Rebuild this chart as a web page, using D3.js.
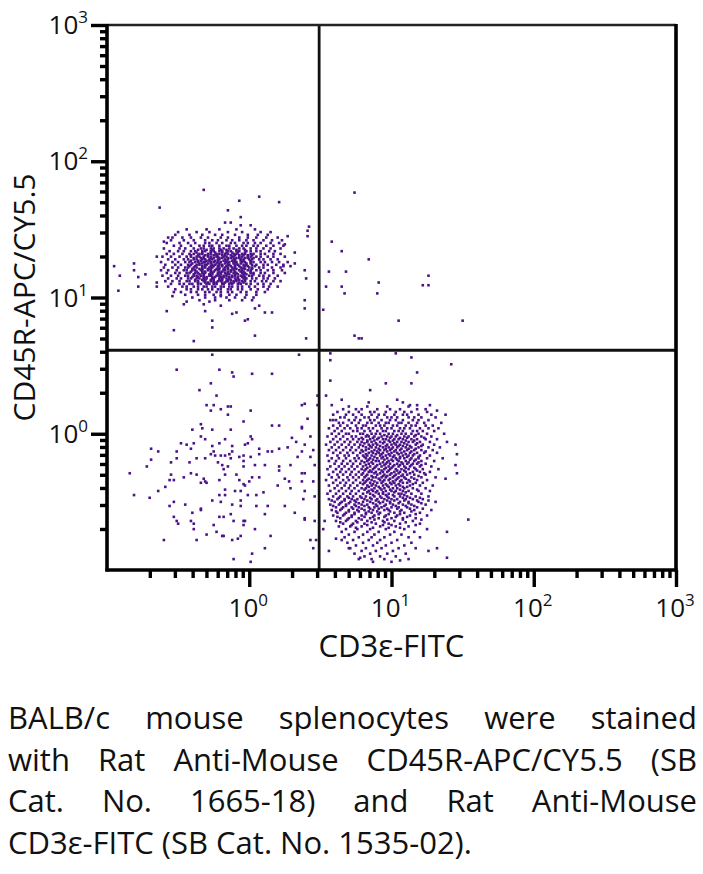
<!DOCTYPE html>
<html>
<head>
<meta charset="utf-8">
<script src="https://cdn.jsdelivr.net/npm/d3@7/dist/d3.min.js"></script>
<style>
  body { margin: 0; background: #fff; }
  text { font-family: "Open Sans", "Noto Sans", sans-serif; fill: #111; }
</style>
</head>
<body>
<div id="chart"></div>
<script>
// axis ranges (linear values, log display)
var xDomain = [0.1, 1000];
var yDomain = [0.1, 1000];
var majorTicks = [1, 10, 100, 1000];
var majorExp = ['0', '1', '2', '3'];
var minorMult = [2, 3, 4, 5, 6, 7, 8, 9];
var minorDecades = [0.1, 1, 10, 100];

// quadrant gates
var cd3Gate = 3.1;
var cd45rGate = 4.1;

var xTitle = 'CD3\u03b5-FITC';
var yTitle = 'CD45R-APC/CY5.5';
var captionLines = [
  'BALB/c mouse splenocytes were stained',
  'with Rat Anti-Mouse CD45R-APC/CY5.5 (SB',
  'Cat. No. 1665-18) and Rat Anti-Mouse',
  'CD3\u03b5-FITC (SB Cat. No. 1535-02).'
];

// events as log10 exponents in hundredths of a decade
// rows: [y, x1, x2, ...]
var bCellRows = [
  [150,-44,-30,-21,-9,4],
  [148,-50,-37,-28,-15,-5,8,15],
  [146,-52,-42,-33,-24,-19,-10,-1,6,13],
  [144,-57,-47,-41,-34,-29,-20,-15,-7,-1,5,12,20],
  [142,-55,-46,-39,-31,-26,-22,-16,-12,-7,-2,3,10,16,23],
  [140,-58,-49,-43,-38,-31,-28,-23,-19,-13,-10,-4,-1,4,8,15,21],
  [138,-53,-48,-41,-35,-32,-28,-26,-21,-16,-14,-9,-5,-2,3,6,12,17,24],
  [136,-60,-49,-45,-39,-34,-32,-27,-25,-21,-18,-14,-11,-7,-4,1,5,10,15,22],
  [135,-36,-30,-26,-20,-16,-9,-3],
  [134,-56,-50,-46,-41,-38,-33,-31,-27,-25,-21,-19,-15,-13,-9,-7,-2,1,5,8,14,18],
  [133,-37,-33,-27,-24,-19,-16,-12,-8,-3],
  [132,-58,-53,-47,-42,-39,-35,-33,-29,-27,-23,-21,-17,-15,-11,-9,-5,-3,1,3,8,11,17,22],
  [131,-41,-36,-31,-29,-25,-23,-19,-17,-13,-10,-7,-4,-1,2],
  [130,-61,-55,-49,-44,-41,-37,-35,-32,-29,-27,-23,-22,-18,-16,-12,-11,-7,-5,-1,1,5,8,13,17,25],
  [129,-39,-34,-32,-27,-25,-21,-19,-15,-13,-9,-7,-3,-1,3],
  [128,-57,-52,-46,-43,-39,-37,-33,-31,-28,-26,-22,-21,-17,-15,-11,-10,-6,-4,0,2,7,10,15,20],
  [127,-41,-36,-34,-30,-28,-24,-22,-18,-16,-12,-10,-6,-4,1],
  [126,-62,-54,-50,-45,-42,-38,-36,-32,-31,-27,-25,-22,-20,-16,-14,-11,-9,-5,-3,1,3,8,11,16,21,27],
  [125,-40,-35,-33,-29,-27,-23,-21,-17,-15,-11,-9,-6,-2,1],
  [124,-59,-52,-48,-43,-41,-37,-35,-31,-30,-26,-24,-21,-19,-15,-14,-10,-8,-4,-2,2,5,10,13,19,24],
  [123,-42,-38,-33,-31,-27,-25,-22,-19,-16,-13,-10,-7,-3,-1,4],
  [122,-60,-54,-50,-45,-43,-39,-37,-33,-31,-28,-26,-22,-21,-17,-15,-12,-10,-6,-4,0,2,7,10,16,22],
  [121,-40,-35,-33,-29,-27,-23,-21,-18,-15,-11,-9,-5,-3,2],
  [120,-62,-57,-51,-46,-44,-40,-38,-34,-33,-29,-27,-24,-22,-18,-17,-13,-11,-7,-5,-1,1,5,8,13,17,23],
  [119,-41,-37,-33,-31,-27,-25,-21,-19,-15,-13,-10,-6,-4,1],
  [118,-58,-52,-49,-44,-42,-38,-36,-33,-31,-27,-26,-22,-20,-17,-15,-11,-9,-5,-3,1,3,8,11,17,25],
  [117,-39,-35,-32,-28,-26,-22,-20,-16,-14,-10,-8,-4,-2,3],
  [116,-61,-55,-50,-45,-43,-39,-37,-34,-32,-28,-27,-23,-21,-18,-16,-12,-10,-6,-4,0,2,7,10,14,20],
  [115,-40,-36,-32,-30,-26,-24,-20,-18,-14,-12,-8,-5,-3],
  [114,-57,-51,-48,-43,-41,-37,-35,-32,-30,-26,-25,-21,-19,-16,-14,-10,-8,-4,-2,2,5,10,13,18],
  [113,-38,-33,-31,-27,-25,-21,-19,-15,-13,-9,-7,-3],
  [112,-59,-54,-49,-44,-42,-38,-36,-32,-31,-27,-25,-22,-20,-16,-15,-11,-9,-5,-3,1,4,9,12,17,22],
  [111,-36,-31,-29,-25,-23,-19,-17,-13,-11,-7,-4],
  [110,-55,-49,-46,-42,-40,-36,-34,-30,-28,-25,-23,-19,-18,-14,-12,-8,-6,-2,1,6,10,15],
  [108,-57,-47,-44,-39,-36,-32,-30,-26,-24,-20,-18,-14,-12,-8,-5,0,4,10,14,20],
  [106,-52,-44,-41,-36,-33,-29,-26,-22,-20,-15,-13,-8,-5,1,6,13],
  [104,-48,-41,-37,-31,-28,-23,-20,-15,-12,-6,-2,5,11],
  [102,-45,-36,-31,-25,-20,-14,-9,-2,5],
  [100,-40,-31,-24,-16,-10,-3,3],
  [98,-35,-24,-14,-5,2]
];

var tCellRows = [
  [20,70,83,97,112],
  [18,66,75,79,90,99,106,118],
  [16,62,70,77,85,88,96,103,109,114,125],
  [14,59,68,73,79,86,91,95,102,108,111,119,128],
  [12,64,67,75,81,84,90,97,100,104,112,116,121,131],
  [10,57,61,70,74,78,85,88,93,99,103,108,115,119,126],
  [8,63,66,72,77,83,86,91,96,98,105,107,112,118,123,135],
  [6,59,64,69,75,80,82,89,92,95,101,104,110,114,117,124,129],
  [4,56,62,67,71,76,79,84,87,93,97,100,106,109,113,120,126,133],
  [2,60,65,73,76,81,85,90,94,96,102,105,108,115,118,122,130],
  [0,58,63,68,70,78,80,86,89,92,98,101,107,110,114,119,125,137],
  [-1,83,95,104,117],
  [-2,55,61,66,72,75,82,84,88,93,97,100,103,109,112,116,121,128],
  [-3,79,87,91,99,106,111,123],
  [-4,59,64,69,73,77,80,85,90,94,96,102,105,108,114,118,124,132],
  [-5,83,88,98,101,110,116],
  [-6,57,62,67,71,76,79,83,86,92,95,99,104,107,112,115,120,127,139],
  [-7,81,89,94,102,109,118],
  [-8,54,60,65,70,74,78,84,87,90,97,100,103,106,111,117,122,130],
  [-9,80,85,92,96,105,108,113,121],
  [-10,58,63,68,72,77,82,86,89,94,98,101,104,110,114,119,126,134],
  [-11,84,91,96,100,107,112,117],
  [-12,56,61,66,71,75,79,82,88,92,95,99,103,106,111,116,121,129],
  [-13,80,86,90,97,102,109,114,124],
  [-14,59,64,69,73,78,84,87,91,94,100,104,107,113,118,123,132],
  [-15,82,89,93,98,105,110,116],
  [-16,55,62,67,70,76,80,83,86,92,96,99,102,108,112,115,120,127],
  [-17,81,88,94,101,106,111,119],
  [-18,58,63,68,74,77,82,85,90,93,97,103,106,109,114,119,125,136],
  [-19,84,87,95,100,104,113,117],
  [-20,56,61,66,71,75,79,83,89,91,98,101,105,110,116,121,130],
  [-21,81,86,94,97,107,112,119],
  [-22,60,65,69,73,78,84,87,92,96,99,104,108,111,115,118,124],
  [-23,82,90,95,102,106,114,121],
  [-24,57,63,67,72,76,80,85,89,93,98,101,105,109,113,120,128],
  [-25,83,88,96,100,110,116],
  [-26,55,61,65,70,74,79,82,87,91,95,99,103,107,112,117,122,133],
  [-27,81,85,93,98,104,109,118],
  [-28,59,64,68,72,77,84,86,89,94,97,102,106,110,115,120,127],
  [-29,80,88,92,100,105,113,123],
  [-30,56,62,66,71,75,79,83,90,95,99,103,108,111,116,124],
  [-31,82,86,94,97,102,107,119],
  [-32,58,63,69,73,77,81,87,89,93,96,101,105,109,114,121,131],
  [-33,84,91,99,104,110,116],
  [-34,54,61,66,70,75,80,83,86,92,95,98,103,107,112,118,125],
  [-35,82,88,94,101,106,113],
  [-36,59,64,68,73,78,81,85,90,93,99,102,108,111,117,122],
  [-37,80,87,96,100,105,115],
  [-38,56,62,67,71,76,83,86,89,94,97,103,106,113,120,129],
  [-39,84,91,98,108,111],
  [-40,60,65,70,74,79,82,88,92,95,101,104,109,115,124],
  [-41,81,86,93,99,106,118],
  [-42,57,63,68,72,77,84,87,90,96,100,103,108,112,119,127],
  [-43,83,89,94,102,110],
  [-44,55,61,66,71,75,80,85,91,94,98,105,107,114,121],
  [-45,87,96,101,109],
  [-46,59,64,69,73,78,82,88,92,97,102,106,111,117,126],
  [-47,63,70,79,85,93,98,108,113,120],
  [-48,56,62,67,72,76,81,86,90,95,100,104,110,115,122],
  [-49,58,67,74,83,89,97,102,109,118,126],
  [-50,60,65,71,75,80,85,91,94,99,106,112,119,131],
  [-51,64,70,77,87,92,99,105,112,121],
  [-52,57,63,68,74,79,83,89,96,101,108,114,124],
  [-53,59,68,75,81,90,95,103,110,116],
  [-54,61,66,72,77,84,88,93,100,105,111,118],
  [-55,65,73,79,85,91,97,104,113,122],
  [-56,58,64,70,76,81,87,95,98,107,116,128],
  [-57,61,70,77,84,90,99,106,114],
  [-58,62,68,74,82,86,92,102,109,120],
  [-59,67,74,82,91,98,106,117],
  [-60,59,66,72,79,88,96,104,113,125],
  [-61,62,72,81,87,95,103,111],
  [-62,64,70,77,85,91,100,108,117],
  [-63,69,79,88,97,108,121],
  [-64,61,68,75,83,94,102,115],
  [-65,64,76,86,95,110],
  [-66,66,73,81,89,98,106,120],
  [-67,72,83,94,100,117],
  [-68,63,71,79,92,103,112],
  [-69,75,87,98,106],
  [-70,68,76,85,96,109,125],
  [-72,65,74,83,91,102,116],
  [-74,70,80,88,99,107],
  [-76,67,77,86,95,112,120],
  [-78,73,84,92,104],
  [-80,69,80,90,100,114],
  [-82,75,87,96,109],
  [-84,71,82,93,105,117],
  [-86,79,89,101],
  [-88,74,85,97,110],
  [-90,81,92,103],
  [-92,77,95,112],
  [-94,87,100]
];

// single events: [x, y]
var bOutLog = [[-32,179],[-63,166],[-7,171],[7,174],[21,170],[-15,164],[-6,159],[-17,155],[-13,155],[-6,153],[1,153],[42,152],[41,149],[41,145],[27,145],[-95,123],[-91,116],[-81,125],[-81,120],[-78,115],[-73,117],[-78,108],[-92,105],[-65,130],[-65,111],[-65,108],[-58,90],[-53,76],[-39,68],[-46,95],[-44,97],[-31,90],[-26,83],[-26,78],[-12,88],[-9,89],[-3,83],[-1,84],[4,72],[11,89],[16,89],[7,94],[4,92],[39,98],[39,92],[40,114],[39,120],[32,125],[29,123],[24,123],[40,70],[32,133],[25,139],[-20,94],[-20,101],[-28,97],[-32,95],[-54,101],[-53,104],[-60,141],[-54,144]];

var tOutLog = [[57,59],[57,54],[103,59],[114,56],[142,51],[118,45],[57,39],[96,37],[114,37],[85,32],[54,28],[65,25],[84,23],[104,25],[108,23],[113,21],[118,21],[127,21],[124,18],[132,17],[138,14],[58,21],[59,10],[145,-8],[146,-15],[145,-23],[146,-29],[138,-33],[154,-63],[139,-72],[139,-91],[132,-84],[126,-86],[106,-93],[86,-92],[78,-91],[70,-84],[65,-78],[56,-86],[61,-77],[52,-70],[53,-64],[48,28],[48,21],[39,22],[41,11],[37,5],[43,-2],[39,-8],[45,-12],[43,-17],[46,-23],[39,-29],[45,-35],[39,-42],[46,-46],[39,-62],[46,-64],[43,-78],[47,-78],[45,-84]];

var urLog = [[74,177],[58,141],[65,134],[84,128],[56,119],[68,119],[54,108],[65,108],[67,103],[91,111],[90,103],[122,109],[126,116],[126,109],[52,91],[105,83],[150,83],[74,72],[77,70],[79,70]];

var dnLog = [[-26,58],[35,58],[-51,47],[-21,47],[-12,45],[-11,42],[2,44],[16,44],[-27,37],[-35,32],[-23,28],[-30,21],[-25,21],[-20,18],[-27,17],[-15,20],[-13,20],[1,17],[-15,14],[-4,9],[37,21],[16,6],[21,6],[37,4],[-34,7],[-33,4],[-40,3],[-26,3],[-13,3],[-34,-2],[-31,-4],[1,-2],[2,-4],[-17,-4],[-26,-9],[-21,-7],[-12,-9],[-3,-8],[-1,-7],[-39,-7],[-44,-8],[-41,-11],[-48,-7],[-69,-11],[-64,-13],[-51,-13],[-27,-15],[-25,-13],[-24,-16],[-20,-16],[-17,-16],[-14,-15],[-12,-13],[-22,-21],[-19,-23],[-18,-26],[-15,-24],[-13,-18],[-7,-17],[-4,-16],[1,-17],[7,-11],[7,-15],[13,-13],[16,-13],[21,-11],[27,-10],[30,-3],[33,-6],[34,-17],[37,-13],[-72,-24],[-69,-19],[-55,-21],[-51,-18],[-42,-21],[-37,-18],[-31,-18],[-4,-20],[-4,-24],[4,-23],[11,-23],[21,-24],[21,-27],[29,-23],[37,-29],[-84,-29],[-55,-30],[-56,-34],[-53,-34],[-46,-32],[-41,-29],[-37,-30],[-32,-33],[-31,-35],[-34,-36],[-30,-36],[-21,-34],[-17,-30],[-9,-30],[-7,-34],[-4,-37],[-3,-38],[0,-35],[2,-32],[7,-32],[20,-38],[25,-33],[28,-35],[29,-40],[37,-35],[-17,-41],[-10,-42],[-6,-42],[-1,-45],[5,-45],[10,-43],[-81,-45],[-70,-47],[-64,-42],[-59,-39],[-56,-53],[-53,-50],[-45,-52],[-26,-49],[-21,-45],[-20,-50],[-17,-45],[-12,-52],[-6,-49],[-6,-53],[5,-53],[13,-53],[25,-53],[38,-48],[-34,-55],[-40,-58],[-34,-56],[-53,-61],[-51,-64],[-50,-66],[-41,-64],[-39,-66],[-39,-70],[-25,-67],[-21,-61],[-18,-61],[-13,-59],[-11,-64],[-4,-64],[-3,-64],[-4,-67],[4,-70],[11,-59],[32,-58],[39,-63],[-30,-74],[-23,-72],[-19,-75],[-18,-75],[-12,-78],[-8,-77],[-6,-75],[15,-75],[-60,-78],[-37,-78],[11,-84],[2,-88],[-11,-92],[1,-94]];

var dotColor = '#4c1389';

var w = 703, h = 874;
var m = {left: 107, right: 676, top: 25, bottom: 570};

var svg = d3.select('#chart').append('svg')
  .attr('width', w)
  .attr('height', h);

var x = d3.scaleLog().domain(xDomain).range([m.left, m.right]);
var y = d3.scaleLog().domain(yDomain).range([m.bottom, m.top]);

// flatten rows + single events into [value, value]
function fromLog(p) { return [Math.pow(10, p[0] / 100), Math.pow(10, p[1] / 100)]; }
var events = [];
[bCellRows, tCellRows].forEach(function(rows) {
  rows.forEach(function(r) {
    r.slice(1).forEach(function(xv) { events.push(fromLog([xv, r[0]])); });
  });
});
[bOutLog, tOutLog, urLog, dnLog].forEach(function(list) {
  list.forEach(function(p) { events.push(fromLog(p)); });
});

svg.append('g').selectAll('rect')
  .data(events)
  .enter()
  .append('rect')
  .attr('x', function(d) { return x(d[0]) - 1.3; })
  .attr('y', function(d) { return y(d[1]) - 1.3; })
  .attr('width', 2.6)
  .attr('height', 2.6)
  .attr('fill', dotColor);

// quadrant gates
svg.append('line')
  .attr('x1', x(cd3Gate)).attr('x2', x(cd3Gate))
  .attr('y1', m.top).attr('y2', m.bottom)
  .attr('stroke', '#111').attr('stroke-width', 2.8);
svg.append('line')
  .attr('x1', m.left).attr('x2', m.right)
  .attr('y1', y(cd45rGate)).attr('y2', y(cd45rGate))
  .attr('stroke', '#111').attr('stroke-width', 2.8);

// ticks
var minorTicks = [];
minorDecades.forEach(function(dec) {
  minorMult.forEach(function(k) { minorTicks.push(dec * k); });
});

function styleAxis(g) {
  g.select('.domain').remove();
  g.selectAll('.tick line').style('stroke', '#000').style('stroke-width', '3.4px');
  g.selectAll('.tick text').remove();
}

svg.append('g').attr('transform', 'translate(0,' + m.bottom + ')')
  .call(d3.axisBottom(x).tickValues(minorTicks).tickSize(8).tickFormat(''))
  .call(styleAxis);
svg.append('g').attr('transform', 'translate(0,' + m.bottom + ')')
  .call(d3.axisBottom(x).tickValues(majorTicks).tickSize(17).tickFormat(''))
  .call(styleAxis);
svg.append('g').attr('transform', 'translate(' + m.left + ',0)')
  .call(d3.axisLeft(y).tickValues(minorTicks).tickSize(7).tickFormat(''))
  .call(styleAxis);
svg.append('g').attr('transform', 'translate(' + m.left + ',0)')
  .call(d3.axisLeft(y).tickValues(majorTicks).tickSize(16).tickFormat(''))
  .call(styleAxis);

// frame
svg.append('line').attr('x1', m.left).attr('x2', m.right).attr('y1', m.top).attr('y2', m.top)
  .attr('stroke', '#222').attr('stroke-width', 2.6);
svg.append('line').attr('x1', m.right).attr('x2', m.right).attr('y1', m.top - 1).attr('y2', m.bottom + 1.5)
  .attr('stroke', '#000').attr('stroke-width', 3.6);
svg.append('line').attr('x1', m.left).attr('x2', m.left).attr('y1', m.top - 1).attr('y2', m.bottom + 1.5)
  .attr('stroke', '#000').attr('stroke-width', 3.6);
svg.append('line').attr('x1', m.left - 1.5).attr('x2', m.right + 1.5).attr('y1', m.bottom).attr('y2', m.bottom)
  .attr('stroke', '#000').attr('stroke-width', 3.6);

// tick labels with superscripts
var xl = svg.append('g').selectAll('text')
  .data(majorTicks)
  .enter()
  .append('text')
  .attr('x', function(d) { return x(d) - 1; })
  .attr('y', 617)
  .attr('text-anchor', 'middle')
  .attr('font-size', 26);
xl.append('tspan').text('10');
xl.append('tspan').attr('dy', -11).attr('font-size', 17).text(function(d, i) { return majorExp[i]; });

var yl = svg.append('g').selectAll('text')
  .data(majorTicks)
  .enter()
  .append('text')
  .attr('x', 88)
  .attr('y', function(d) { return y(d) + 9; })
  .attr('text-anchor', 'end')
  .attr('font-size', 26);
yl.append('tspan').text('10');
yl.append('tspan').attr('dy', -11).attr('font-size', 17).text(function(d, i) { return majorExp[i]; });

// axis titles
svg.append('text')
  .attr('x', x(10))
  .attr('y', 657)
  .attr('text-anchor', 'middle')
  .attr('font-size', 31)
  .text(xTitle);
svg.append('text')
  .attr('transform', 'translate(35,' + ((m.top + m.bottom) / 2) + ') rotate(-90)')
  .attr('text-anchor', 'middle')
  .attr('font-size', 30)
  .text(yTitle);

// justified caption
var capG = svg.append('g').attr('font-size', 31);
captionLines.forEach(function(line, i) {
  var words = line.split(' ');
  var ty = 729 + i * 41.7;
  var texts = words.map(function(wd) { return capG.append('text').attr('y', ty).text(wd); });
  var widths = texts.map(function(t) { return t.node().getComputedTextLength(); });
  var isLast = i === captionLines.length - 1;
  var gap = isLast ? 31 * 0.26 : (697 - 8 - d3.sum(widths)) / (words.length - 1);
  var cx = 8;
  texts.forEach(function(t, j) { t.attr('x', cx); cx += widths[j] + gap; });
});
</script>
</body>
</html>
